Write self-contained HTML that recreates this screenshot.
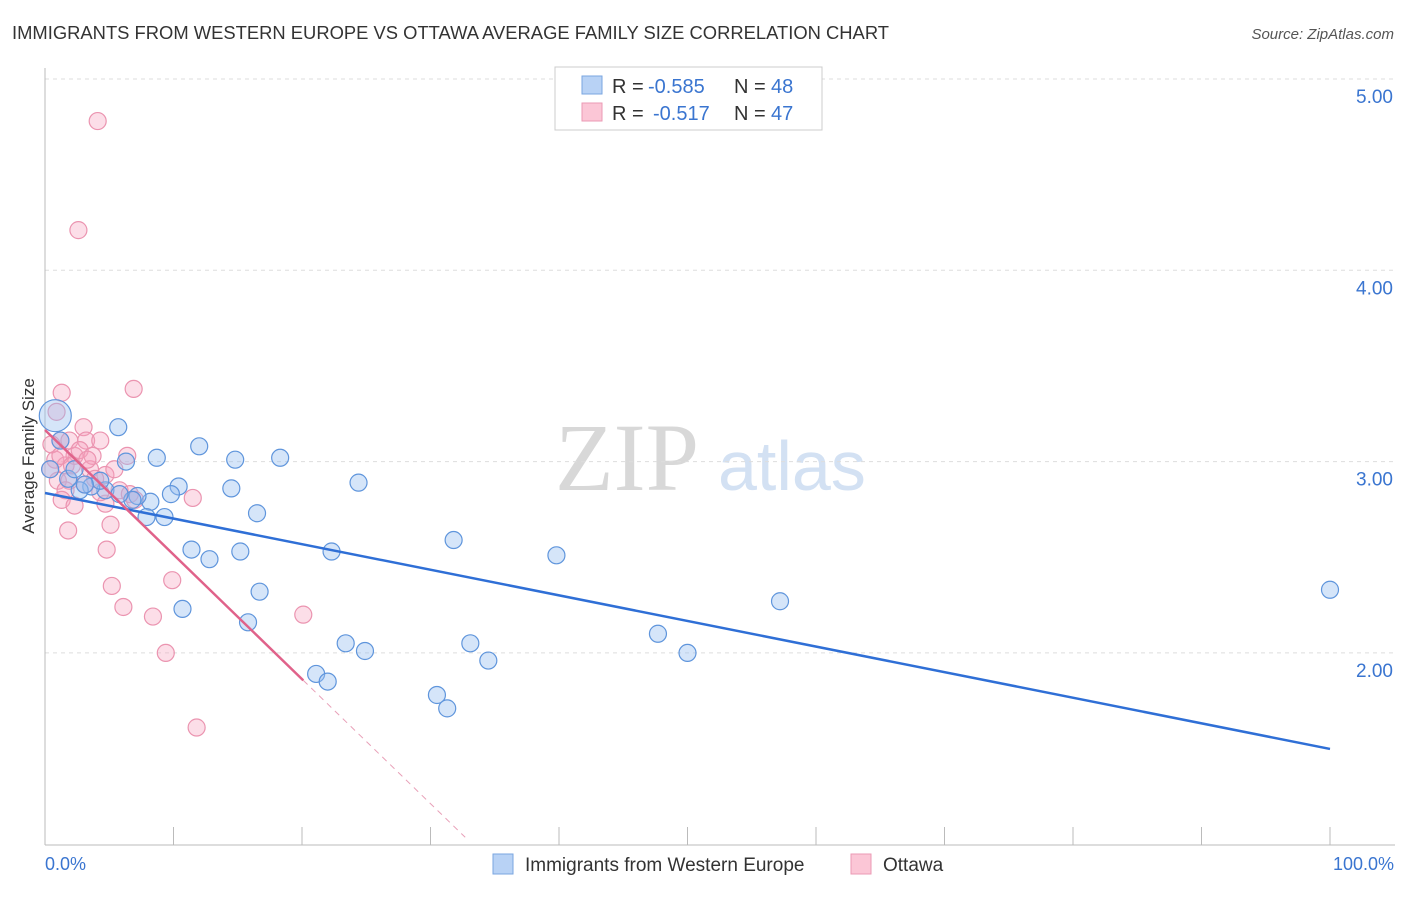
<!DOCTYPE html>
<html><head><meta charset="utf-8"><style>
body{margin:0;background:#fff;font-family:"Liberation Sans",sans-serif;}
svg text{font-family:"Liberation Sans",sans-serif;}
</style></head><body>
<svg id="chart" width="1406" height="892" xmlns="http://www.w3.org/2000/svg">
<text x="12" y="39" font-size="18" fill="#333" textLength="877" lengthAdjust="spacingAndGlyphs">IMMIGRANTS FROM WESTERN EUROPE VS OTTAWA AVERAGE FAMILY SIZE CORRELATION CHART</text>
<text x="1394" y="39" font-size="15" fill="#555" text-anchor="end" font-style="italic">Source: ZipAtlas.com</text>
<text x="555" y="490" font-size="96" fill="#d8d8d8" style="font-family:'Liberation Serif',serif">ZIP</text>
<text x="718" y="490" font-size="70" fill="#d3e1f3">atlas</text>
<text transform="translate(34,456) rotate(-90)" font-size="17" fill="#333" text-anchor="middle">Average Family Size</text>
<g id="grid"></g><g id="pts"></g><g id="lines"></g>
<g>
<rect x="555" y="67" width="267" height="63" fill="#fff" stroke="#ccc"/>
<rect x="582" y="76" width="20" height="18" fill="#b8d2f5" stroke="#7aa6e0"/>
<text x="612" y="93" font-size="20" fill="#333">R =</text>
<text x="648" y="93" font-size="20" fill="#3a75d0">-0.585</text>
<text x="734" y="93" font-size="20" fill="#333">N =</text>
<text x="771" y="93" font-size="20" fill="#3a75d0">48</text>
<rect x="582" y="103" width="20" height="18" fill="#fbc6d6" stroke="#eb9ab4"/>
<text x="612" y="120" font-size="20" fill="#333">R =</text>
<text x="653" y="120" font-size="20" fill="#3a75d0">-0.517</text>
<text x="734" y="120" font-size="20" fill="#333">N =</text>
<text x="771" y="120" font-size="20" fill="#3a75d0">47</text>
</g>
<g>
<rect x="493" y="854" width="20" height="20" fill="#b8d2f5" stroke="#7aa6e0"/>
<text x="525" y="871" font-size="19" fill="#333">Immigrants from Western Europe</text>
<rect x="851" y="854" width="20" height="20" fill="#fbc6d6" stroke="#eb9ab4"/>
<text x="883" y="871" font-size="19" fill="#333">Ottawa</text>
</g>
<text x="45" y="870" font-size="18" fill="#3a75d0">0.0%</text>
<text x="1394" y="870" font-size="18" fill="#3a75d0" text-anchor="end">100.0%</text>
</svg>
<script>
const yTicks=[5,4,3,2];
const yTickLabels=["5.00","4.00","3.00","2.00"];
const blueX=[5.7,6.3,8.7,12.0,14.8,18.3,24.4,10.4,14.5,9.8,8.2,7.2,4.7,3.6,2.7,1.8,4.3,6.8,7.9,9.3,16.5,11.4,12.8,15.2,22.3,31.8,39.8,10.7,16.7,15.8,23.4,24.9,33.1,34.5,21.1,22.0,30.5,31.3,47.7,50.0,57.2,100,0.8,1.2,0.4,2.3,3.1,5.8];
const blueY=[3.18,3.00,3.02,3.08,3.01,3.02,2.89,2.87,2.86,2.83,2.79,2.82,2.85,2.87,2.85,2.91,2.90,2.80,2.71,2.71,2.73,2.54,2.49,2.53,2.53,2.59,2.51,2.23,2.32,2.16,2.05,2.01,2.05,1.96,1.89,1.85,1.78,1.71,2.10,2.00,2.27,2.33,3.24,3.11,2.96,2.96,2.88,2.83];
const pinkX=[4.1,2.6,6.9,1.3,3.0,0.9,1.2,1.9,3.2,4.3,0.8,1.6,2.3,3.5,1.0,1.9,2.7,3.7,4.7,5.4,5.8,4.7,5.1,1.8,4.8,6.4,5.2,6.1,9.9,8.4,9.4,11.5,20.1,11.8,0.4,1.6,3.1,3.9,1.3,2.3,0.5,1.2,2.1,3.3,4.3,6.6,7.0];
const pinkY=[4.78,4.21,3.38,3.36,3.18,3.26,3.11,3.11,3.11,3.11,3.01,2.98,3.03,2.96,2.90,2.90,3.06,3.03,2.93,2.96,2.85,2.78,2.67,2.64,2.54,3.03,2.35,2.24,2.38,2.19,2.00,2.81,2.20,1.61,2.96,2.85,2.88,2.91,2.80,2.77,3.09,3.03,2.98,3.01,2.84,2.83,2.80];
const blueTrend=[2.836,1.498];
const pinkTrend=[3.165,-0.0651];
const NS="http://www.w3.org/2000/svg";
const sx=v=>45+v*12.85;
const sy=v=>79+(5-v)*191.3;
function mk(t,a,p){const e=document.createElementNS(NS,t);for(const k in a)e.setAttribute(k,a[k]);p.appendChild(e);return e;}
const g=document.getElementById('grid');
yTicks.forEach((t,i)=>{
 const l=mk('line',{x1:45,x2:1395,y1:sy(t),y2:sy(t),stroke:'#ddd','stroke-dasharray':'4,4'},g);
 
 
 const tx=mk('text',{x:1393,y:sy(t)+24,'font-size':19,fill:'#3a75d0','text-anchor':'end'},g);
 tx.textContent=yTickLabels[i];
 
 
});
const ax=mk('line',{x1:45,x2:1395,y1:845,y2:845,stroke:'#bbb'},g);


const ay=mk('line',{x1:45,x2:45,y1:68,y2:845,stroke:'#bbb'},g);


for(let i=0;i<=10;i++){
 const t=mk('line',{x1:sx(i*10),x2:sx(i*10),y1:827,y2:845,stroke:'#bbb'},g);
 
 
}
const P=document.getElementById('pts');
pinkX.forEach((x,i)=>{
 const c=mk('circle',{cx:sx(x),cy:sy(pinkY[i]),r:8.5,fill:'rgba(245,160,190,0.35)',stroke:'#eb94b0','stroke-width':1.2},P);
 
 
});
blueX.forEach((x,i)=>{
 const c=mk('circle',{cx:sx(x),cy:sy(blueY[i]),r:i==42?16:8.5,fill:'rgba(150,190,240,0.4)',stroke:'#5f95dc','stroke-width':1.2},P);
 
 
});
const L=document.getElementById('lines');
const bl=mk('line',{x1:sx(0),y1:sy(blueTrend[0]),x2:sx(100),y2:sy(blueTrend[1]),stroke:'#2f6fd6','stroke-width':2.5},L);


const pe=20.1, pd=32.7;
const pl=mk('line',{x1:sx(0),y1:sy(pinkTrend[0]),x2:sx(pe),y2:sy(pinkTrend[0]+pinkTrend[1]*pe),stroke:'#e0628a','stroke-width':2.5},L);


const pdl=mk('line',{x1:sx(pe),y1:sy(pinkTrend[0]+pinkTrend[1]*pe),x2:sx(pd),y2:sy(pinkTrend[0]+pinkTrend[1]*pd),stroke:'#e8a0b8','stroke-width':1,'stroke-dasharray':'6,5'},L);


</script>
</body></html>
